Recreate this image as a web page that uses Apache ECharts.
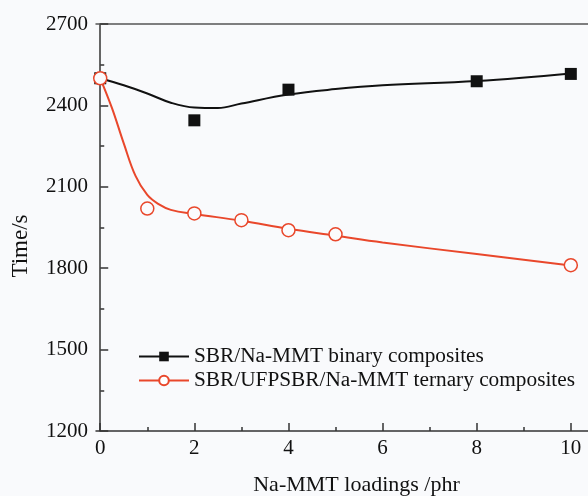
<!DOCTYPE html>
<html>
<head>
<meta charset="utf-8">
<script src="https://cdn.jsdelivr.net/npm/echarts@6/dist/echarts.min.js"></script>
<style>
  html, body { margin: 0; padding: 0; background: #f9fafc; }
  #chart { width: 588px; height: 496px; }
</style>
</head>
<body>
<div id="chart"></div>
<script>
// measured points
const binaryX = [0, 2, 4, 8, 10]
const binaryY = [2500, 2345, 2458, 2489, 2516]
const ternaryX = [0, 1, 2, 3, 4, 5, 10]
const ternaryY = [2500, 2020, 2002, 1977, 1940, 1925, 1811]

// fitted curves
const binaryFitX = [0, 0.5, 1, 1.5, 2, 2.5, 3, 4, 5, 6, 8, 10]
const binaryFitY = [2500, 2474, 2444, 2410, 2392, 2390, 2407, 2440, 2460, 2474, 2490, 2518]
const ternaryFitX = [0, 0.25, 0.5, 0.75, 1, 1.25, 1.5, 2, 3, 4, 5, 6, 8, 10]
const ternaryFitY = [2500, 2390, 2260, 2140, 2070, 2035, 2015, 2000, 1975, 1945, 1920, 1895, 1852, 1810]

const xMajor = [0, 2, 4, 6, 8, 10]
const xMinor = [1, 3, 5, 7, 9]

const BLACK = '#111111'
const RED = '#e9472b'
const FONT = 'Liberation Serif'

const pairs = (xs, ys) => xs.map((x, i) => [x, ys[i]])

const chart = echarts.init(document.getElementById('chart'))

const option = {
  backgroundColor: '#f9fafc',
  animation: false,
  grid: { left: 96, right: -4, top: 24, bottom: 65, outerBoundsMode: 'none' },
  legend: {
    orient: 'vertical',
    left: 133,
    top: 341,
    itemWidth: 50,
    itemHeight: 12,
    itemGap: 3,
    textStyle: { fontFamily: FONT, fontSize: 21.3, color: '#111' },
    data: ['SBR/Na-MMT binary composites', 'SBR/UFPSBR/Na-MMT ternary composites']
  },
  xAxis: [
    {
      type: 'value',
      min: -0.09,
      max: 10.45,
      splitLine: { show: false },
      axisLine: { lineStyle: { color: '#333', width: 1.5 } },
      axisTick: { inside: true, length: 8, customValues: xMajor, lineStyle: { color: '#333', width: 1.5 } },
      axisLabel: {
        customValues: xMajor,
        fontFamily: FONT, fontSize: 21, color: '#111', margin: 7
      },
      name: 'Na-MMT loadings /phr',
      nameLocation: 'middle',
      nameGap: 43,
      nameTextStyle: { fontFamily: FONT, fontSize: 22, color: '#111', padding: [0, 0, 0, 25] }
    },
    {
      type: 'value',
      position: 'bottom',
      min: -0.09,
      max: 10.45,
      splitLine: { show: false },
      axisLine: { show: false },
      axisTick: { inside: true, length: 4, customValues: xMinor, lineStyle: { color: '#333', width: 1.5 } },
      axisLabel: { show: false }
    },
    {
      type: 'value',
      position: 'top',
      min: -0.09,
      max: 10.45,
      splitLine: { show: false },
      axisLine: { show: true, lineStyle: { color: '#555', width: 1.5 } },
      axisTick: { show: false },
      axisLabel: { show: false }
    }
  ],
  yAxis: {
    type: 'value',
    min: 1200,
    max: 2700,
    interval: 300,
    splitLine: { show: false },
    axisLine: { show: true, lineStyle: { color: '#333', width: 1.5 } },
    axisTick: { inside: true, length: 8, lineStyle: { color: '#333', width: 1.5 } },
    minorTick: { show: true, splitNumber: 2, length: 4, lineStyle: { color: '#333', width: 1.5 } },
    axisLabel: {
      fontFamily: FONT, fontSize: 21, color: '#111', margin: 8,
      formatter: v => String(v)
    }
  },
  graphic: [
    {
      type: 'text',
      x: 21,
      y: 246,
      rotation: Math.PI / 2,
      style: {
        text: 'Time/s',
        font: '23px "Liberation Serif"',
        fill: '#111',
        textAlign: 'center',
        textVerticalAlign: 'middle'
      }
    }
  ],
  series: [
    {
      name: 'SBR/Na-MMT binary composites',
      type: 'line',
      smooth: 0.4,
      showSymbol: false,
      symbol: 'rect',
      symbolSize: 11,
      itemStyle: { color: BLACK },
      lineStyle: { color: BLACK, width: 2 },
      data: pairs(binaryFitX, binaryFitY),
      z: 2
    },
    {
      name: 'SBR/UFPSBR/Na-MMT ternary composites',
      type: 'line',
      smooth: 0.4,
      showSymbol: false,
      symbol: 'emptyCircle',
      symbolSize: 11,
      itemStyle: { color: RED, borderColor: RED, borderWidth: 1.5 },
      lineStyle: { color: RED, width: 2 },
      data: pairs(ternaryFitX, ternaryFitY),
      z: 2
    },
    {
      name: 'binary points',
      type: 'scatter',
      symbol: 'rect',
      symbolSize: 12,
      itemStyle: { color: BLACK, opacity: 1 },
      data: pairs(binaryX, binaryY),
      z: 3
    },
    {
      name: 'ternary points',
      type: 'scatter',
      symbol: 'circle',
      symbolSize: 13,
      itemStyle: { color: '#fbfbfd', borderColor: RED, borderWidth: 1.5, opacity: 1 },
      data: pairs(ternaryX, ternaryY),
      z: 3
    }
  ]
}

chart.setOption(option)
</script>
</body>
</html>
